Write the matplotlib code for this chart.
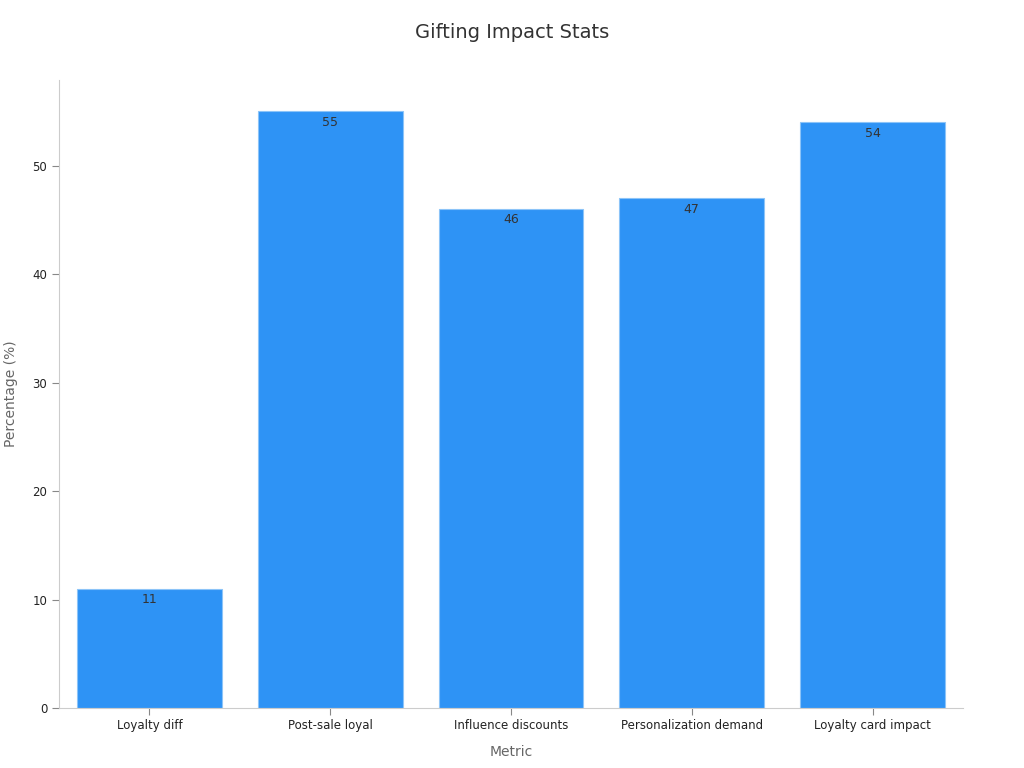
import matplotlib
matplotlib.use("Agg")
import matplotlib.pyplot as plt

categories = ["Loyalty diff", "Post-sale loyal", "Influence discounts", "Personalization demand", "Loyalty card impact"]
values = [11, 55, 46, 47, 54]

fig = plt.figure(figsize=(10.24, 7.68), dpi=100)
ax = fig.add_axes([59/1024, 1-708/768, (963-59)/1024, (708-80)/768])
x = range(len(categories))
bars = ax.bar(x, values, width=0.8, color="#2E93F5", edgecolor="#8CC4F8", linewidth=0.8)
for xi, v in zip(x, values):
    ax.text(xi, v - 0.4, str(v), ha="center", va="top", fontsize=9, color="#333333")
ax.set_xlim(-0.5, 4.5)
ax.set_ylim(0, 57.9)
ax.set_xticks(list(x))
ax.set_xticklabels(categories, fontsize=8.5, color="#222222")
ax.set_yticks([0, 10, 20, 30, 40, 50])
ax.tick_params(axis="y", labelsize=8.5, length=5)
ax.tick_params(axis="x", length=5, pad=3)
ax.tick_params(colors="#888888", labelcolor="#222222")
for s in ["top", "right"]:
    ax.spines[s].set_visible(False)
for s in ["left", "bottom"]:
    ax.spines[s].set_color("#cccccc")
ax.set_xlabel("Metric", fontsize=10, color="#666666", labelpad=9)
ax.set_ylabel("Percentage (%)", fontsize=10, color="#666666", labelpad=10)
fig.suptitle("Gifting Impact Stats", y=1-33/768, fontsize=14, color="#333333", va="center")
fig.savefig("out.png", dpi=100)
